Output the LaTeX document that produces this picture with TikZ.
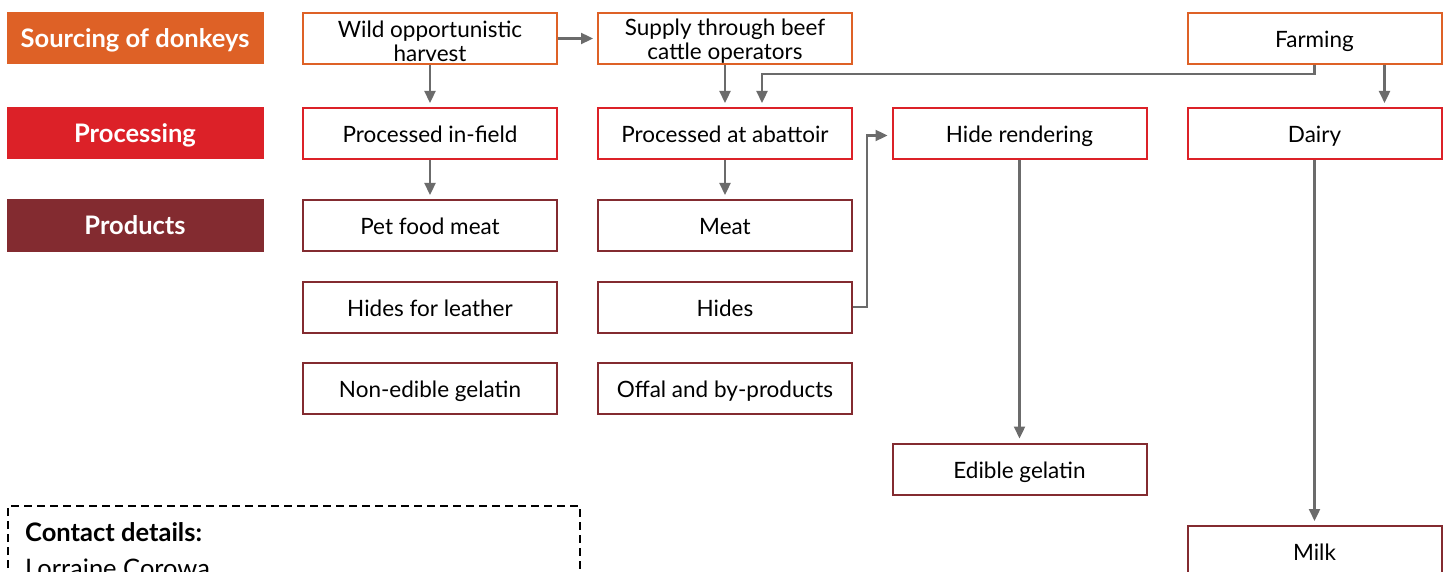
\documentclass[tikz,border=0pt]{standalone}
\usepackage{fontspec}
\setmainfont{Lato}
\usetikzlibrary{arrows.meta,positioning}
\definecolor{cOrange}{HTML}{DE6126}
\definecolor{cRed}{HTML}{DC2128}
\definecolor{cDark}{HTML}{832B30}
\definecolor{cGray}{HTML}{6B6B6B}
\newcommand{\topstrut}{\rule{0pt}{21.5pt}}
\tikzset{
  box/.style={draw, line width=2pt, fill=white, minimum width=254pt, minimum height=51pt, inner sep=0pt, align=center, font=\fontsize{22.5}{24}\selectfont},
  one/.style={text height=18pt, text depth=0pt},
  srcbox/.style={box, draw=cOrange},
  procbox/.style={box, one, draw=cRed},
  prodbox/.style={box, one, draw=cDark},
  label/.style={minimum width=257pt, minimum height=52pt, inner sep=0pt, text=white, text height=19pt, text depth=0pt, font=\bfseries\fontsize{25.5}{28}\selectfont},
  conn/.style={draw=cGray, line width=2.3pt, -{Triangle[length=12pt,width=11pt]}, shorten >=4pt},
}
\begin{document}
\begin{tikzpicture}[x=1pt,y=-1pt]
\useasboundingbox (0,0) rectangle (1451,572);
\clip (0,0) rectangle (1451,572);
% row labels
\node[label, fill=cOrange] (lsrc) at (135,38.5) {Sourcing of donkeys};
\node[label, fill=cRed] (lproc) at (135,133.5) {Processing};
\node[label, fill=cDark] (lprod) at (135,225.5) {Products};
% column 1
\node[srcbox] (wild) at (430,38.5) {\topstrut Wild opportunistic\\harvest};
\node[procbox] (infield) at (430,133.5) {Processed in-field};
\node[prodbox] (pet) at (430,225.5) {Pet food meat};
\node[prodbox] (leather) at (430,307) {Hides for leather};
\node[prodbox] (nonedible) at (430,388) {Non-edible gelatin};
% column 2
\node[srcbox] (supply) at (725,38.5) {\topstrut Supply through beef\\cattle operators};
\node[procbox] (abattoir) at (725,133.5) {Processed at abattoir};
\node[prodbox] (meat) at (725,225.5) {Meat};
\node[prodbox] (hides) at (725,307) {Hides};
\node[prodbox] (offal) at (725,388) {Offal and by-products};
% column 3
\node[procbox] (hiderend) at (1019.5,133.5) {Hide rendering};
\node[prodbox] (edible) at (1019.5,469) {Edible gelatin};
% column 4
\node[srcbox, one] (farming) at (1314.5,38.5) {Farming};
\node[procbox] (dairy) at (1314.5,133.5) {Dairy};
\node[prodbox] (milk) at (1314.5,551.5) {Milk};
% contact box
\draw[line width=2pt, dashed, dash pattern=on 8pt off 5pt] (8,620) -- (8,506) -- (580,506) -- (580,620);
\node[anchor=base west, inner sep=0pt, font=\bfseries\fontsize{25.5}{28}\selectfont] (contact) at (25,541.5) {Contact details:};
\node[anchor=base west, inner sep=0pt, font=\fontsize{25.5}{28}\selectfont] (name) at (25,577.5) {Lorraine Corowa};
% connectors
\draw[conn] (wild.east) -- (supply.west);
\draw[conn] (wild.south) -- (infield.north);
\draw[conn] (supply.south) -- (abattoir.north);
\draw[conn] (farming.south) -- ++(0,9) -| ([xshift=37pt]abattoir.north);
\draw[conn] ([xshift=70pt]farming.south) -- ([xshift=70pt]dairy.north);
\draw[conn] (infield.south) -- (pet.north);
\draw[conn] (abattoir.south) -- (meat.north);
\draw[conn] (hides.east) -- ++(14,0) |- ([yshift=-2pt]hiderend.west);
\draw[conn] (hiderend.south) -- (edible.north);
\draw[conn] (dairy.south) -- (milk.north);
\end{tikzpicture}
\end{document}
